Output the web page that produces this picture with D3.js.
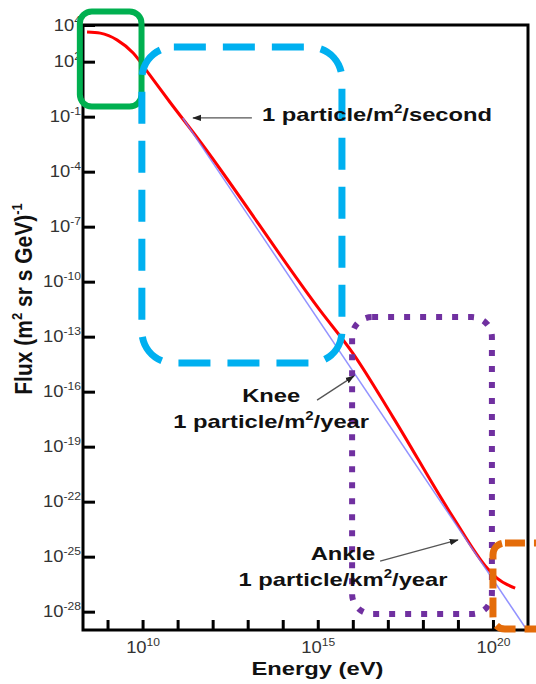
<!DOCTYPE html>
<html>
<head>
<meta charset="utf-8">
<script src="https://cdn.jsdelivr.net/npm/d3@7"></script>
<style>
  body { margin: 0; background: #fff; }
  svg { display: block; font-family: "Liberation Sans", Arial, sans-serif; }
</style>
</head>
<body>
<svg id="chart" width="536" height="684"></svg>
<script>
// measured cosmic ray spectrum (energy in eV, flux in m^-2 sr^-1 s^-1 GeV^-1)
const spectrumEnergy = [2.6e8, 6.2e8, 1.9e9, 5.4e9, 1.6e10, 6e10, 3.5e11, 1.15e15, 1.0e16, 1.4e17, 7.2e18, 7.2e19, 1.3e20, 4.3e20];
const spectrumFlux = [4.2e3, 3.6e3, 1.5e3, 300, 19, 0.63, 7.8e-3, 2.8e-12, 1.26e-14, 4.1e-18, 1.45e-23, 2.1e-26, 6.8e-27, 1.9e-27];

// straight power-law reference line
const refEnergy = [1.4e11, 9.3e20];
const refFlux = [8.5e-2, 1e-29];

// axis ticks
const yTicks = [1e4, 1e2, 1e-1, 1e-4, 1e-7, 1e-10, 1e-13, 1e-16, 1e-19, 1e-22, 1e-25, 1e-28];
const xTicks = [1e9, 1e10, 1e11, 1e12, 1e13, 1e14, 1e15, 1e16, 1e17, 1e18, 1e19, 1e20];
const xLabelled = [1e10, 1e15, 1e20];

// highlight boxes, in log10(energy) / log10(flux)
const boxes = [
  { key: "green", e: [8.21, 9.97], f: [4.74, -0.45] },
  { key: "cyan", e: [9.98, 15.69], f: [2.8, -14.44] },
  { key: "purple", e: [15.98, 19.97], f: [-11.93, -28.13] },
  { key: "orange", e: [20.0, 21.9], f: [-24.26, -28.95] }
];

// callouts, in log10 units: label lines, arrow tail -> tip
const callouts = [
  { lines: [["1 particle/m", { sup: "2" }, "/second"]], at: [13.41, -1.24], anchor: "start",
    tail: [13.12, -1.07], tip: [11.44, -1.07] },
  { lines: [["Knee"], ["1 particle/m", { sup: "2" }, "/year"]], at: [13.67, -16.57], anchor: "middle",
    tail: [14.98, -16.46], tip: [16.03, -15.15] },
  { lines: [["Ankle"], ["1 particle/km", { sup: "2" }, "/year"]], at: [15.72, -25.18], anchor: "middle",
    tail: [16.78, -25.24], tip: [19.0, -24.09] }
];

const boxStyle = {
  green:  { color: "#00b050", width: 6, dash: null, r: 12 },
  cyan:   { color: "#00b0f0", width: 7, dash: "32 17", r: 32 },
  purple: { color: "#7030a0", width: 6, dash: "6 10", r: 20 },
  orange: { color: "#e46c0a", width: 7, dash: "20 9", r: 12 }
};

const W = 536, H = 684;
const margin = { top: 25, right: 8, bottom: 54, left: 83 };
const svg = d3.select("#chart");

const x = d3.scaleLog().domain([10 ** 8.3, 1e21]).range([margin.left, W - margin.right]);
const y = d3.scaleLog().domain([1e4, 1e-29]).range([margin.top, H - margin.bottom]);
const X = e => x(10 ** e), Y = f => y(10 ** f);

// rich text with superscripts, stretched horizontally like the original
function richText(parent, px, py, parts, o) {
  const g = parent.append("g")
    .attr("transform", `translate(${px},${py}) scale(${o.sx || 1},1) rotate(${o.rotate || 0})`);
  const t = g.append("text")
    .attr("text-anchor", o.anchor || "start")
    .attr("font-size", o.size)
    .attr("font-weight", o.weight || "normal")
    .attr("fill", o.fill || "#111");
  const shift = o.size * 0.42;
  let raised = false;
  parts.forEach(p => {
    if (typeof p === "string") {
      const s = t.append("tspan").text(p);
      if (raised) s.attr("dy", shift);
      raised = false;
    } else {
      t.append("tspan").attr("dy", -shift).attr("font-size", o.supSize || o.size * 0.62).text(p.sup);
      raised = true;
    }
  });
  return t;
}

// curves
const line = d3.line().x(d => x(d[0])).y(d => y(d[1])).curve(d3.curveMonotoneX);

svg.append("path")
  .datum(d3.zip(spectrumEnergy, spectrumFlux))
  .attr("d", line)
  .attr("fill", "none")
  .attr("stroke", "#ff0000")
  .attr("stroke-width", 3);

svg.append("path")
  .datum(d3.zip(refEnergy, refFlux))
  .attr("d", d3.line().x(d => x(d[0])).y(d => y(d[1])))
  .attr("fill", "none")
  .attr("stroke", "#7f7fff")
  .attr("stroke-width", 1.5)
  .attr("opacity", 0.85);

// frame
svg.append("rect")
  .attr("x", margin.left).attr("y", margin.top)
  .attr("width", W - margin.left - margin.right)
  .attr("height", H - margin.top - margin.bottom)
  .attr("fill", "none").attr("stroke", "#000").attr("stroke-width", 3);

// y axis
const yAxis = svg.append("g")
  .attr("transform", `translate(${margin.left},0)`)
  .call(d3.axisLeft(y).tickValues(yTicks).tickSize(-12).tickSizeOuter(0).tickPadding(4));
yAxis.select(".domain").remove();
yAxis.selectAll(".tick line").attr("stroke", "#000").attr("stroke-width", 3);
yAxis.selectAll(".tick text").remove();
yAxis.selectAll(".tick").each(function (d) {
  const e = Math.round(Math.log10(d));
  richText(d3.select(this), -2, 5, ["10", { sup: String(e) }],
    { size: 16, supSize: 10.5, anchor: "end", sx: 1.15, fill: "#333" });
});

// x axis
const xAxis = svg.append("g")
  .attr("transform", `translate(0,${H - margin.bottom})`)
  .call(d3.axisBottom(x).tickValues(xTicks).tickSize(-10).tickSizeOuter(0));
xAxis.select(".domain").remove();
xAxis.selectAll(".tick line").attr("stroke", "#000").attr("stroke-width", 3);
xAxis.selectAll(".tick text").remove();
xAxis.selectAll(".tick").filter(d => xLabelled.includes(d)).each(function (d) {
  const e = Math.round(Math.log10(d));
  richText(d3.select(this), 0, 23, ["10", { sup: String(e) }],
    { size: 16, supSize: 10.5, anchor: "middle", sx: 1.15, fill: "#333" });
});

// axis titles
richText(svg, (margin.left + W - margin.right) / 2 + 12, 675, ["Energy (eV)"],
  { size: 19, weight: "bold", anchor: "middle", sx: 1.25 });
richText(svg, 32, 299, ["Flux (m", { sup: "2" }, " sr s GeV)", { sup: "-1" }],
  { size: 21, weight: "bold", anchor: "middle", sx: 1.1, rotate: -90 });

// highlight boxes
boxes.forEach(b => {
  const s = boxStyle[b.key];
  const x0 = X(b.e[0]), x1 = X(b.e[1]), y0 = Y(b.f[0]), y1 = Y(b.f[1]);
  svg.append("rect")
    .attr("x", x0).attr("y", y0)
    .attr("width", x1 - x0).attr("height", y1 - y0)
    .attr("rx", s.r).attr("ry", s.r)
    .attr("fill", "none")
    .attr("stroke", s.color)
    .attr("stroke-width", s.width)
    .attr("stroke-dasharray", s.dash);
});

// callouts
svg.append("defs").append("marker")
  .attr("id", "arrow")
  .attr("viewBox", "0 0 10 10")
  .attr("refX", 9).attr("refY", 5)
  .attr("markerWidth", 7).attr("markerHeight", 7)
  .attr("orient", "auto")
  .append("path").attr("d", "M0,1.5L10,5L0,8.5Z").attr("fill", "#222");

callouts.forEach(c => {
  svg.append("line")
    .attr("x1", X(c.tail[0])).attr("y1", Y(c.tail[1]))
    .attr("x2", X(c.tip[0])).attr("y2", Y(c.tip[1]))
    .attr("stroke", "#555").attr("stroke-width", 1.3)
    .attr("marker-end", "url(#arrow)");
  c.lines.forEach((parts, i) => {
    richText(svg, X(c.at[0]), Y(c.at[1]) + i * 26, parts,
      { size: 19, supSize: 12, weight: "bold", anchor: c.anchor, sx: 1.25 });
  });
});
</script>
</body>
</html>
